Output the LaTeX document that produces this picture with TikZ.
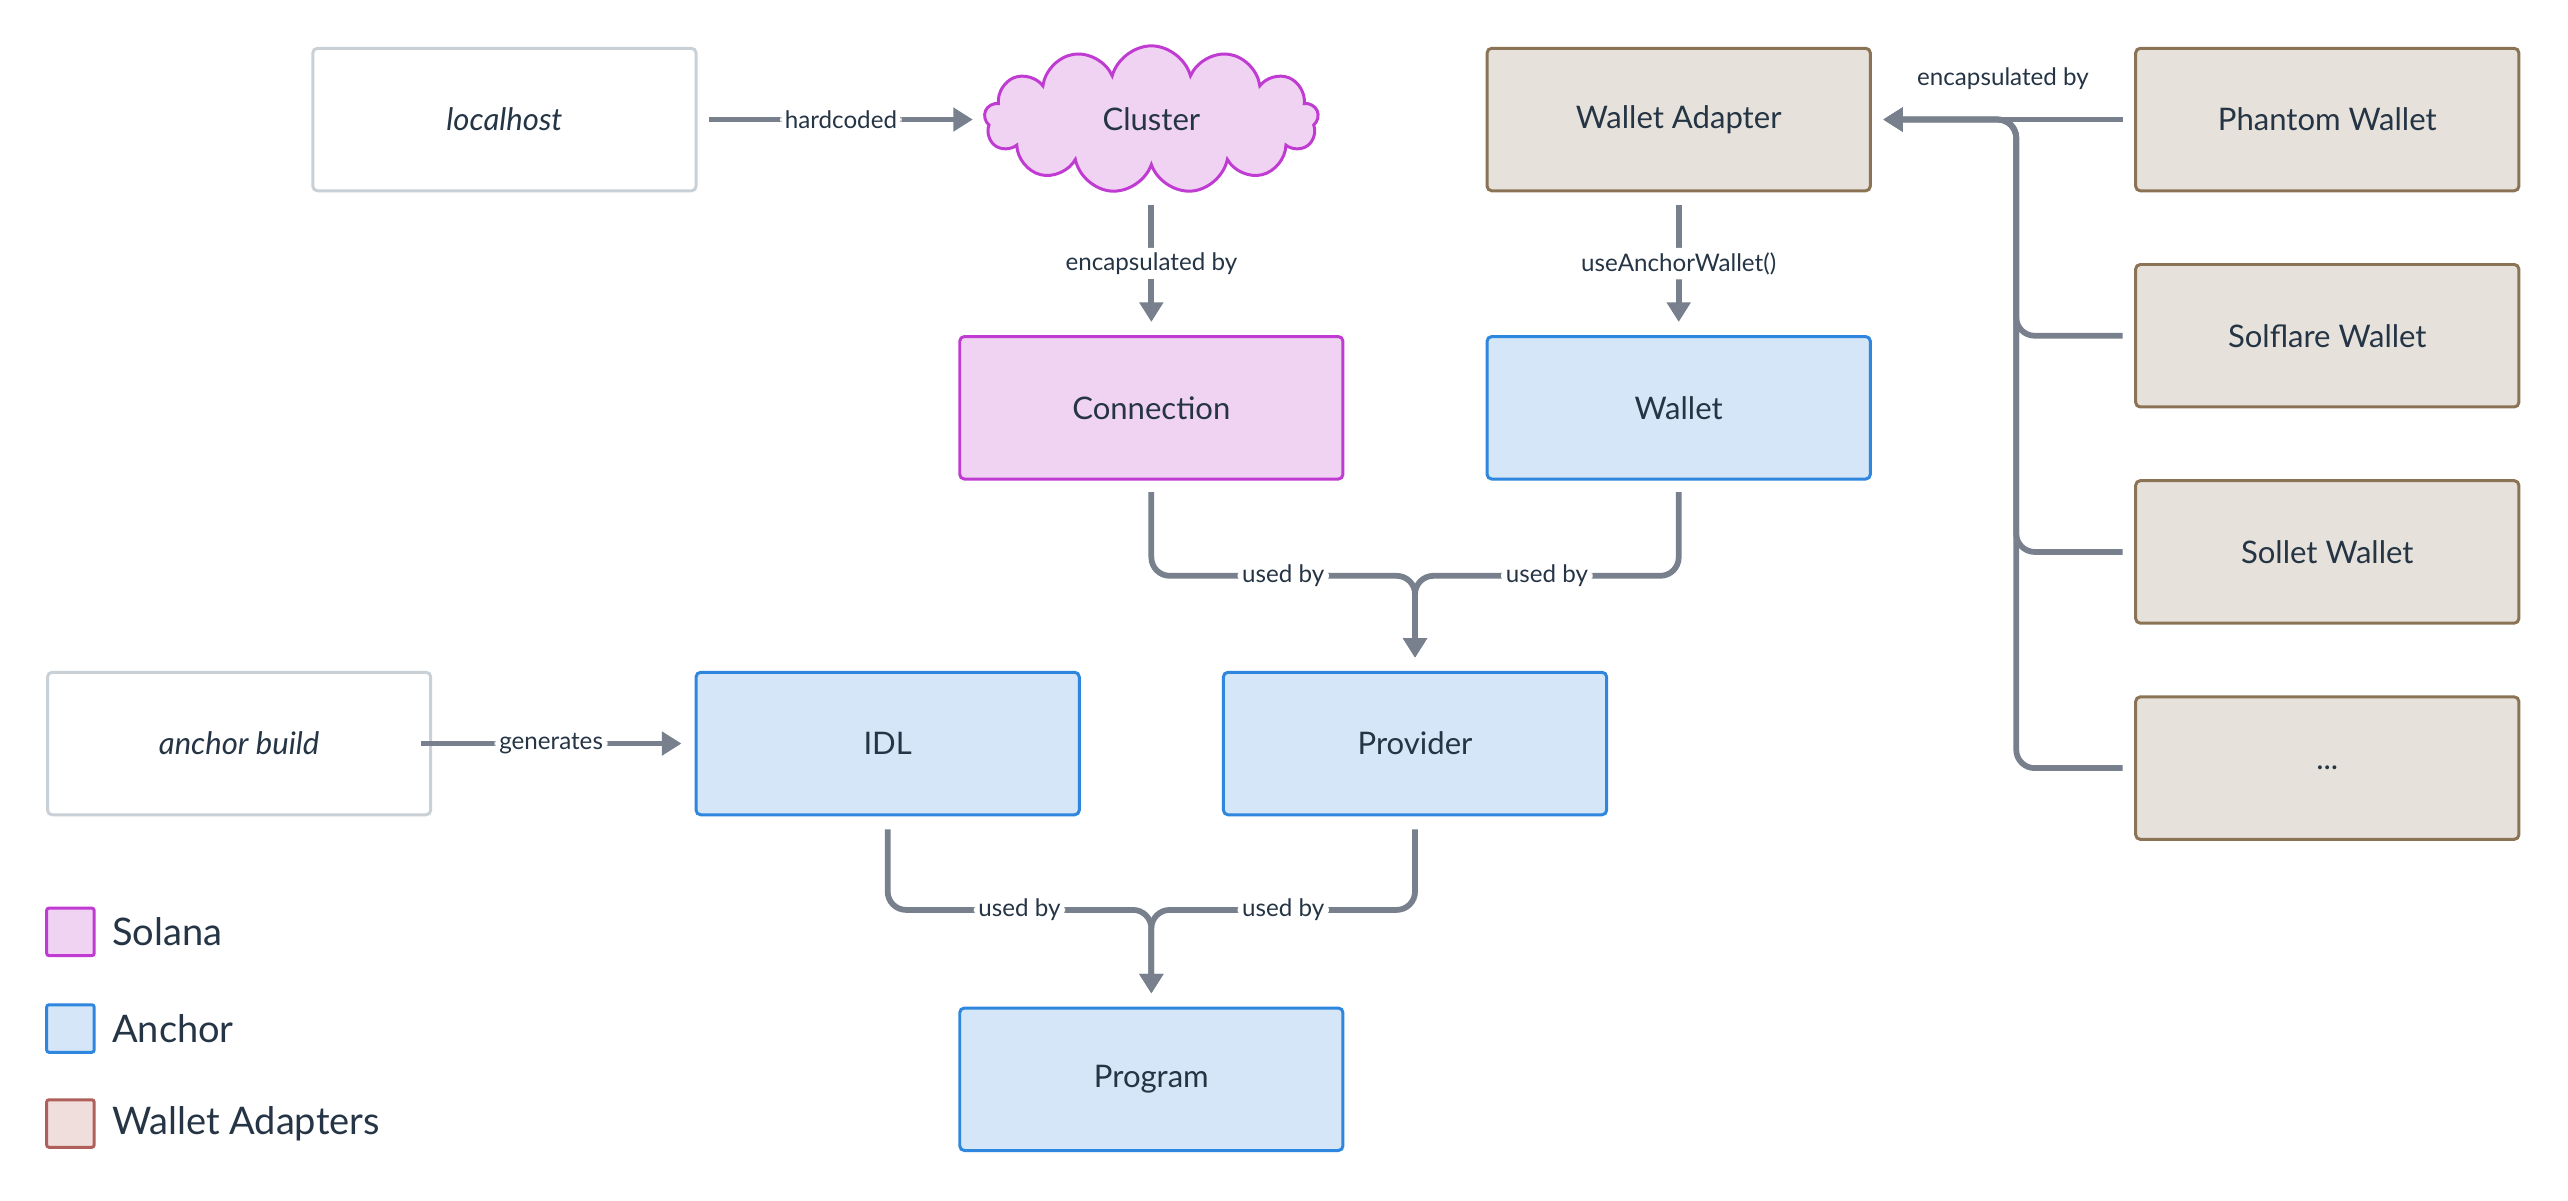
\documentclass[tikz,border=0pt]{standalone}
\usepackage{fontspec}
\setmainfont{Lato}
\usetikzlibrary{shapes.symbols,arrows.meta,calc}
\definecolor{txt}{HTML}{253545}
\definecolor{edge}{HTML}{77808C}
\definecolor{solF}{HTML}{F0D3F3}\definecolor{solD}{HTML}{C03BD1}
\definecolor{ancF}{HTML}{D4E6F7}\definecolor{ancD}{HTML}{2E86DE}
\definecolor{walF}{HTML}{E6E2DB}\definecolor{walD}{HTML}{8B7355}
\definecolor{legF}{HTML}{F0DEDC}\definecolor{legD}{HTML}{B0605A}
\definecolor{plain}{HTML}{C9D0D6}
\begin{document}
\begin{tikzpicture}[x=0.05cm,y=-0.05cm,
  box/.style={draw,rectangle,rounded corners=4pt,line width=2.6pt,minimum width=11.7cm,minimum height=4.35cm,text=txt,font=\fontsize{27}{32}\selectfont},
  plainb/.style={box,draw=plain,fill=white,font=\fontsize{27}{32}\selectfont\itshape},
  sol/.style={box,draw=solD,fill=solF},
  anc/.style={box,draw=ancD,fill=ancF},
  wal/.style={box,draw=walD,fill=walF},
  conn/.style={draw=edge,line width=5pt,-{Triangle[length=17pt,width=20pt]},rounded corners=16pt},
  lbl/.style={fill=white,text=txt,inner sep=4pt,font=\fontsize{21}{25}\selectfont},
  leg/.style={draw,rectangle,rounded corners=2pt,line width=2.6pt,minimum size=1.45cm,inner sep=0pt},
  legt/.style={anchor=west,text=txt,font=\fontsize{33}{40}\selectfont}]
\useasboundingbox[fill=white] (0,0) rectangle (1568,733);
\node[plainb] (lh) at (308,73) {localhost};
\node[cloud,cloud puffs=13,aspect=2.4,draw=solD,fill=solF,line width=2.6pt,minimum width=10.2cm,minimum height=4.5cm,text=txt,font=\fontsize{27}{32}\selectfont] (cl) at (703,73) {Cluster};
\node[wal] (wa) at (1025,73) {Wallet Adapter};
\node[wal] (ph) at (1421,73) {Phantom Wallet};
\node[wal] (sf) at (1421,205) {Solflare Wallet};
\node[wal] (sl) at (1421,337) {Sollet Wallet};
\node[wal] (dd) at (1421,469) {...};
\node[sol] (co) at (703,249) {Connection};
\node[anc] (wl) at (1025,249) {Wallet};
\node[plainb] (ab) at (146,454) {anchor build};
\node[anc] (idl) at (542,454) {IDL};
\node[anc] (pv) at (864,454) {Provider};
\node[anc] (pg) at (703,659) {Program};
% edges
\draw[conn] ([shift={(7,0)}]lh.east) -- node[lbl]{hardcoded} (594,73);
\draw[conn] (703,125) -- node[lbl]{encapsulated by} ([shift={(0,-8)}]co.north);
\draw[conn] ([shift={(0,8)}]wa.south) -- node[lbl]{useAnchorWallet()} ([shift={(0,-8)}]wl.north);
\foreach \w in {dd,sl,sf}{
  \draw[conn] ([shift={(-7,0)}]\w.west) -- ++(-65,0) |- ([shift={(7,0)}]wa.east);}
\draw[conn] ([shift={(-7,0)}]ph.west) -- ([shift={(7,0)}]wa.east);
\node[text=txt,font=\fontsize{21}{25}\selectfont] (eb) at (1223,48) {encapsulated by};
\draw[conn] ([shift={(-7,0)}]ab.east) -- node[lbl]{generates} ([shift={(-8,0)}]idl.west);
\draw[conn] ([shift={(0,7)}]co.south) |- node[lbl,pos=0.75]{used by} ([shift={(0,-58)}]pv.north) -- ([shift={(0,-8)}]pv.north);
\draw[conn] ([shift={(0,7)}]wl.south) |- node[lbl,pos=0.75]{used by} ([shift={(0,-58)}]pv.north) -- ([shift={(0,-8)}]pv.north);
\draw[conn] ([shift={(0,8)}]idl.south) |- node[lbl,pos=0.75]{used by} ([shift={(0,-59)}]pg.north) -- ([shift={(0,-8)}]pg.north);
\draw[conn] ([shift={(0,8)}]pv.south) |- node[lbl,pos=0.75]{used by} ([shift={(0,-59)}]pg.north) -- ([shift={(0,-8)}]pg.north);
% legend
\node[leg,draw=solD,fill=solF] (l1) at (43,569) {};
\node[legt] (t1) at (66,569) {Solana};
\node[leg,draw=ancD,fill=ancF] (l2) at (43,628) {};
\node[legt] (t2) at (66,628) {Anchor};
\node[leg,draw=legD,fill=legF] (l3) at (43,686) {};
\node[legt] (t3) at (66,686) {Wallet Adapters};
\end{tikzpicture}
\end{document}
